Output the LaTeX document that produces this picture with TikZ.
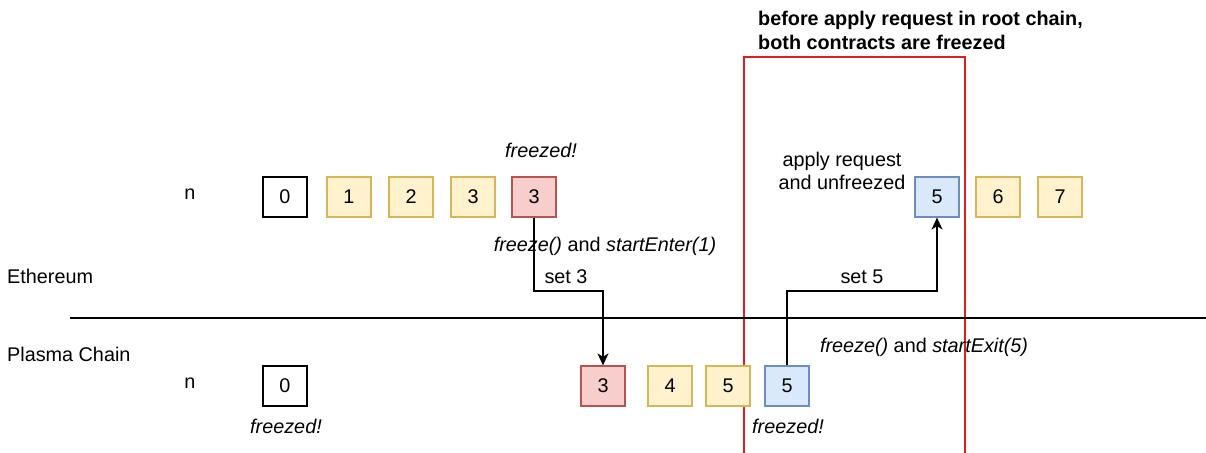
\documentclass[tikz,border=0pt]{standalone}
\usepackage{fontspec}
\setmainfont{Liberation Sans}
\usetikzlibrary{arrows.meta}
\definecolor{ylwfill}{HTML}{FFF2CC}
\definecolor{ylwdraw}{HTML}{D6B656}
\definecolor{redfill}{HTML}{F8CECC}
\definecolor{reddraw}{HTML}{B85450}
\definecolor{blufill}{HTML}{DAE8FC}
\definecolor{bludraw}{HTML}{6C8EBF}
\definecolor{boxred}{HTML}{DD1F1F}
\tikzset{
  x=1pt, y=-1pt,
  every node/.style={font=\fontsize{19.8}{23.5}\selectfont},
  blk/.style={draw, line width=1.2pt, minimum width=44pt, minimum height=40pt, inner sep=0pt},
  plain/.style={blk, draw=black, fill=white},
  ylw/.style={blk, draw=ylwdraw, fill=ylwfill},
  rd/.style={blk, draw=reddraw, fill=redfill},
  blu/.style={blk, draw=bludraw, fill=blufill},
  lbl/.style={inner sep=0pt},
  conn/.style={line width=1.3pt, -{Stealth[length=12pt,width=11pt,inset=3.5pt]}},
}
\begin{document}
\begin{tikzpicture}
\useasboundingbox (0,0) rectangle (1206,452);
% red frame
\node[draw=boxred, line width=1.8pt, minimum width=221pt, minimum height=420pt, inner sep=0pt] (frm) at (854.5,267) {};
\node[lbl, anchor=west, align=left, font=\fontsize{19.8}{24}\selectfont\bfseries] (title) at (758,30) {before apply request in root chain,\\both contracts are freezed};
% divider
\coordinate (dl) at (70,318);
\coordinate (dr) at (1206,318);
\draw[line width=1.2pt] (dl) -- (dr);
% side labels
\node[lbl, anchor=west] (eth) at (7,276.5) {Ethereum};
\node[lbl, anchor=west] (pls) at (7,354) {Plasma Chain};
\node[lbl] (n1) at (190,194) {n};
\node[lbl] (n2) at (190,383) {n};
% top row
\node[plain] (t0) at (285,197) {0};
\node[ylw] (t1) at (349,197) {1};
\node[ylw] (t2) at (411,197) {2};
\node[ylw] (t3) at (473,197) {3};
\node[rd] (t3r) at (534,197) {3};
\node[blu] (t5) at (937,197) {5};
\node[ylw] (t6) at (998,197) {6};
\node[ylw] (t7) at (1060,197) {7};
% bottom row
\node[plain] (b0) at (285,386) {0};
\node[rd] (b3) at (603,386) {3};
\node[ylw] (b4) at (670,386) {4};
\node[ylw] (b5y) at (728,386) {5};
\node[blu] (b5) at (787,386) {5};
% texts
\node[lbl] (fz1) at (541,150) {\itshape freezed!};
\node[lbl] (fz2) at (286,426) {\itshape freezed!};
\node[lbl] (fz3) at (788,426) {\itshape freezed!};
\node[lbl] (act1) at (605,246) {\itshape freeze()\upshape{} and \itshape startEnter(1)};
\node[lbl] (act2) at (924,347) {\itshape freeze()\upshape{} and \itshape startExit(5)};
\node[lbl] (set3) at (566,277) {set 3};
\node[lbl] (set5) at (862,277) {set 5};
\node[lbl, align=center, font=\fontsize{19.8}{23}\selectfont] (appl) at (842,171) {apply request\\and unfreezed};
% connectors
\coordinate (mid) at (0,291);
\draw[conn] (t3r.south) -- (t3r.south |- mid) -| (b3.north);
\draw[conn] (b5.north) -- (b5.north |- mid) -| (t5.south);
\end{tikzpicture}
\end{document}
